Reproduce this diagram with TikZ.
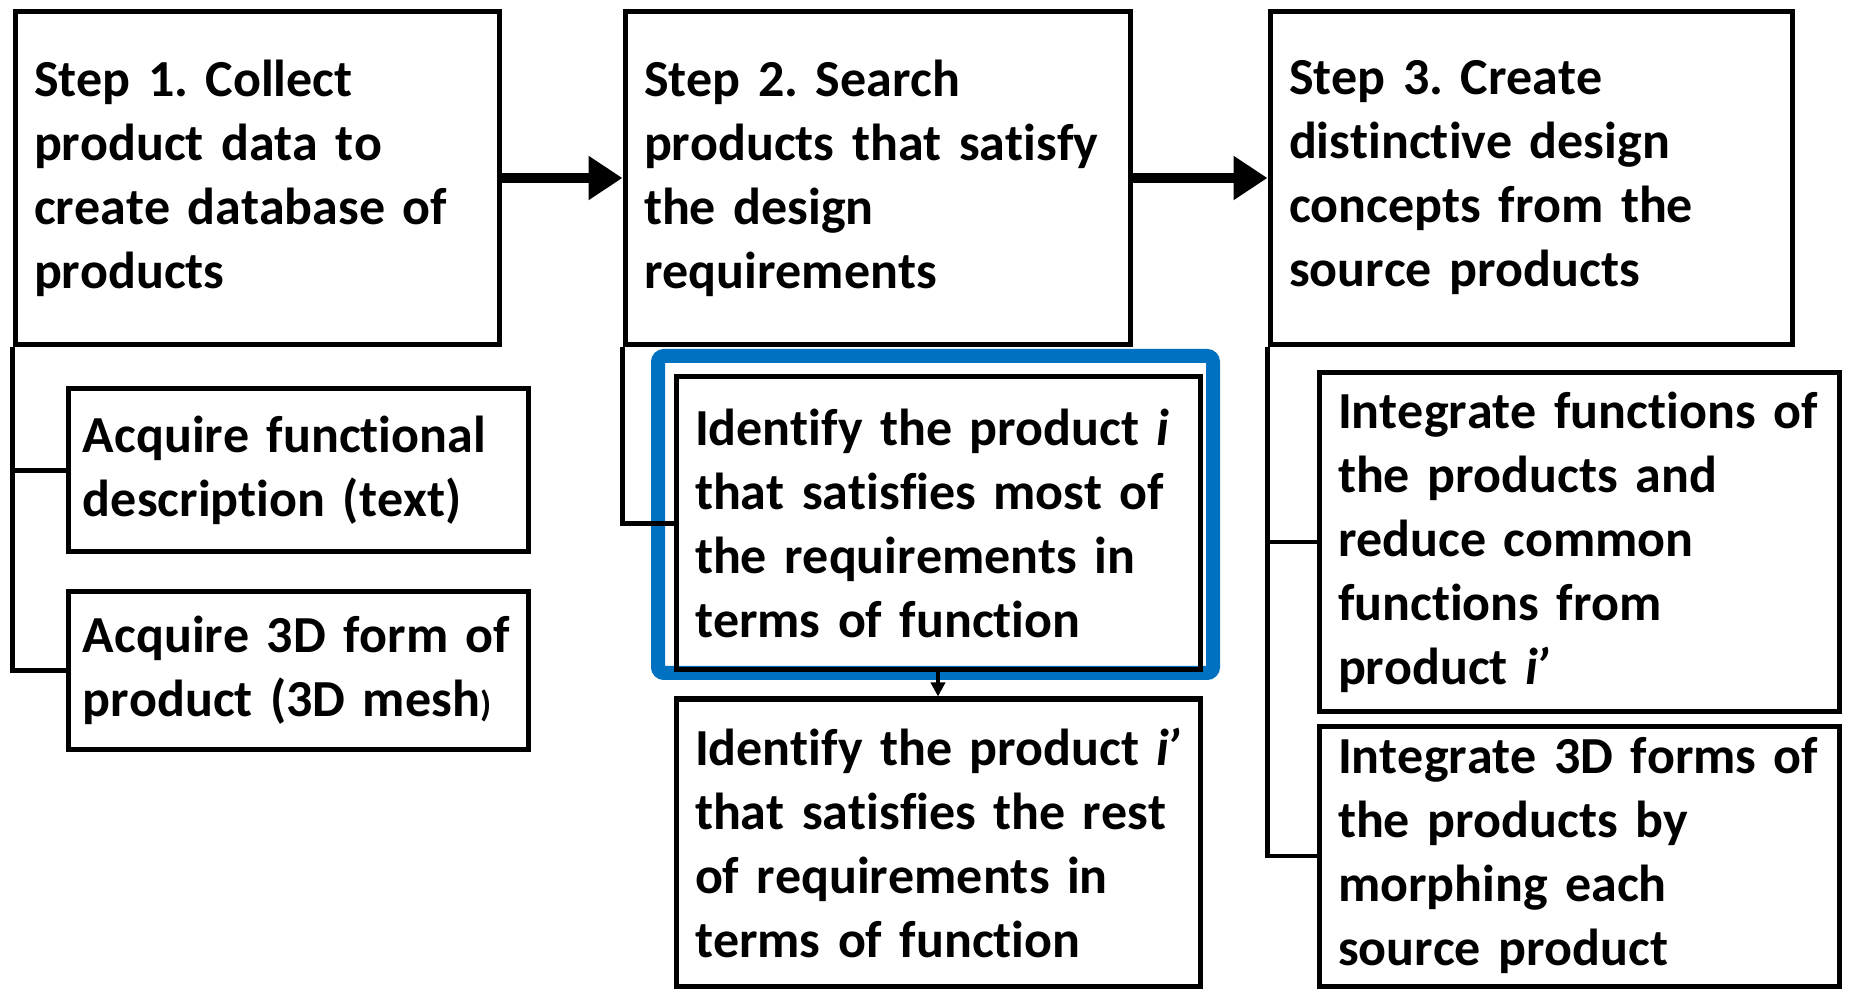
\documentclass[tikz,border=0pt]{standalone}
\usepackage{fontspec}
\setmainfont{Carlito}[Ligatures=NoCommon,Kerning=Off]
\usepackage{xcolor}
\usetikzlibrary{arrows.meta,backgrounds}
\definecolor{hiblue}{HTML}{0070C0}
\tikzset{
    stepbox/.style={draw=black, line width=2.5pt, align=left, inner xsep=9.5pt, minimum height=166.5pt, font=\bfseries\fontsize{26}{32}\selectfont},
    subbox/.style={draw=black, line width=2.5pt, align=left, inner xsep=9.5pt, font=\bfseries\fontsize{26}{32}\selectfont},
    link/.style={line width=2.2pt},
    flow/.style={line width=5pt, -{Triangle[length=17pt,width=21pt]}},
    drop/.style={line width=1.8pt, -{Triangle[length=7pt,width=7pt]}},
    hilite/.style={draw=hiblue, line width=7pt, rounded corners=3pt}
}
\begin{document}
\frenchspacing
\begin{tikzpicture}[x=0.5pt,y=-0.5pt]
        \useasboundingbox (0,0) rectangle (1849,989);

        \node[stepbox, text width=223pt] (S1) at (257,178) {Step 1. Collect\\product data to\\create database of\\products};
        \node[stepbox, text width=233.5pt] (S2) at (877.5,178) {Step 2. Search\\products that satisfy\\the design\\requirements};
        \node[stepbox, text width=242pt] (S3) at (1531,178) {Step 3. Create\\distinctive design\\concepts from the\\source products};

        \node[subbox, inner xsep=7.5pt, text width=215pt, minimum height=81.5pt] (A1) at (298,470.5) {Acquire functional\\description (text)};
        \node[subbox, inner xsep=7.5pt, text width=215pt, minimum height=78.5pt] (A2) at (298,670.5) {Acquire 3D form of\\product (3D mesh{\fontsize{18}{32}\selectfont)}};

        \node[subbox, text width=243pt, minimum height=146.5pt] (I1) at (938,523.5) {Identify the product \textit{i}\\that satisfies most of\\the requirements in\\terms of function};
        \node[subbox, text width=243pt, minimum height=143.5pt] (I2) at (938,842.5) {Identify the product \textit{i\kern-1.5pt’}\\that satisfies the rest\\of requirements in\\terms of function};

        \node[subbox, text width=241pt, minimum height=169pt] (C1) at (1579,542) {Integrate functions of\\the products and\\reduce common\\functions from\\product \textit{i\kern-1.5pt’}};
        \node[subbox, text width=241pt, minimum height=130pt] (C2) at (1579,856) {Integrate 3D forms of\\the products by\\morphing each\\source product};

        \begin{scope}[on background layer]
            \draw[hilite] (658,356) rectangle (1213,673);
        \end{scope}

        \draw[flow] (S1) -- (S2);
        \draw[flow] (S2) -- (S3);

        \draw[link] (S1.south west) |- (A1.west);
        \draw[link] (S1.south west) |- (A2.west);
        \draw[link] (S2.south west) |- (I1.west);
        \draw[link] (S3.south west) |- (C1.west);
        \draw[link] (S3.south west) |- (C2.west);

        \draw[drop] (I1) -- (I2);
    \end{tikzpicture}
\end{document}
